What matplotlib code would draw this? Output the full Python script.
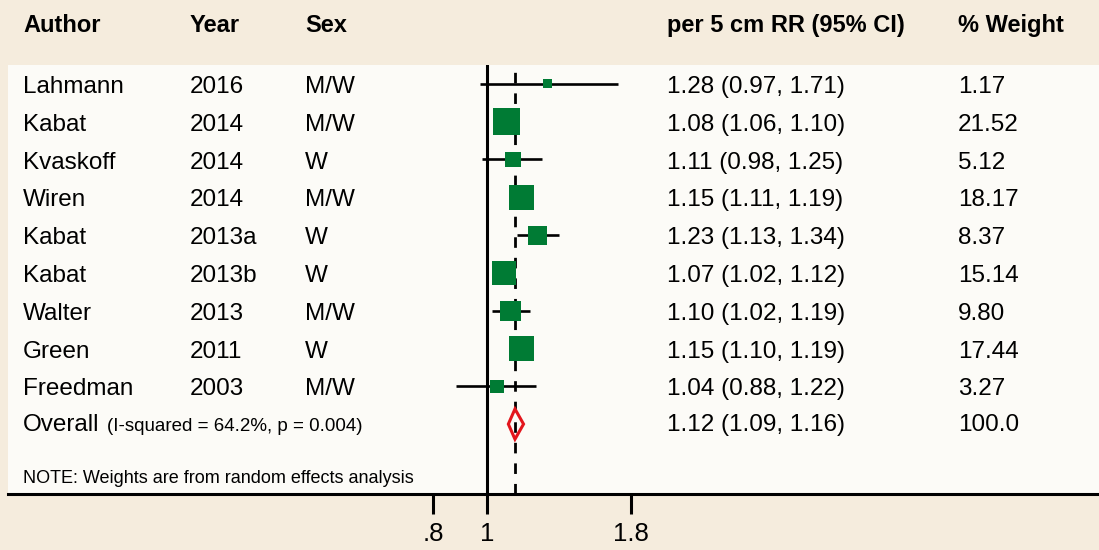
import matplotlib
matplotlib.use('Agg')
import matplotlib.pyplot as plt
import matplotlib.transforms as mtransforms

plt.rcParams['font.family'] = ['Liberation Sans', 'DejaVu Sans']

authors = ['Lahmann', 'Kabat', 'Kvaskoff', 'Wiren', 'Kabat', 'Kabat', 'Walter', 'Green', 'Freedman']
years = ['2016', '2014', '2014', '2014', '2013a', '2013b', '2013', '2011', '2003']
sexes = ['M/W', 'M/W', 'W', 'M/W', 'W', 'W', 'M/W', 'W', 'M/W']
rr = [1.28, 1.08, 1.11, 1.15, 1.23, 1.07, 1.10, 1.15, 1.04]
lo = [0.97, 1.06, 0.98, 1.11, 1.13, 1.02, 1.02, 1.10, 0.88]
hi = [1.71, 1.10, 1.25, 1.19, 1.34, 1.12, 1.19, 1.19, 1.22]
weights = [1.17, 21.52, 5.12, 18.17, 8.37, 15.14, 9.80, 17.44, 3.27]

overall_rr = 1.12
overall_lo = 1.09
overall_hi = 1.16
overall_weight = '100.0'
overall_note = '(I-squared = 64.2%, p = 0.004)'
note = 'NOTE: Weights are from random effects analysis'

headers = ['Author', 'Year', 'Sex', 'per 5 cm RR (95% CI)', '% Weight']
xticks = [0.8, 1, 1.8]
xticklabels = ['.8', '1', '1.8']

beige = '#f5ecdd'
panel = '#fcfbf7'
green = '#007b34'
red = '#e3161d'

W, H = 1099, 550
fig = plt.figure(figsize=(W / 100, H / 100), dpi=100, facecolor=beige)
# panel from x=8px to right edge, y=65px to 494px
ax = fig.add_axes([8 / W, (H - 494) / H, (W - 8) / W, (494 - 65) / H])
ax.set_facecolor(panel)
ax.set_xscale('log')
ax.set_xlim(0.1402, 12.27)
ax.set_ylim(10.85, -0.5)

n = len(authors)
rows = list(range(n))

# reference lines
ax.axvline(1, color='black', lw=2.2, zorder=2)
ax.axvline(overall_rr, color='black', lw=2.0, linestyle=(0, (3.8, 3.6)), zorder=1)

# confidence intervals and weighted boxes
ax.hlines(rows, lo, hi, color='black', lw=1.9, zorder=3)
sides = [27 * (w / max(weights)) ** 0.37 * 0.72 for w in weights]
ax.scatter(rr, rows, marker='s', s=[s ** 2 for s in sides], color=green,
           linewidths=0, zorder=4)

# overall diamond
yo = n
h = 0.4
ax.fill([overall_lo, overall_rr, overall_hi, overall_rr], [yo, yo - h, yo, yo + h],
        facecolor='none', edgecolor=red, lw=2.2, joinstyle='miter', zorder=5)

# axis
for side in ['top', 'left', 'right']:
    ax.spines[side].set_visible(False)
ax.spines['bottom'].set_linewidth(2.2)
ax.set_yticks([])
ax.set_xticks(xticks)
ax.set_xticklabels(xticklabels)
ax.minorticks_off()
ax.tick_params(axis='x', length=14.4, width=2.2, pad=6, labelsize=18.5)

# text columns, x in figure pixels, y in row units
tr = mtransforms.blended_transform_factory(fig.transFigure, ax.transData)
col_x = [23, 190, 305, 667, 958]
for x, txt in zip(col_x, headers):
    ax.text(x / W, -1.376, txt, transform=tr, fontsize=17, fontweight='bold',
            va='baseline', ha='left', clip_on=False)

for i in rows:
    cells = [authors[i], years[i], sexes[i],
             '%.2f (%.2f, %.2f)' % (rr[i], lo[i], hi[i]), '%.2f' % weights[i]]
    for x, txt in zip(col_x, cells):
        ax.text(x / W, i + 0.24, txt, transform=tr, fontsize=17.5,
                va='baseline', ha='left')

ax.text(23 / W, yo + 0.19, 'Overall', transform=tr, fontsize=17.5, va='baseline')
ax.text(107 / W, yo + 0.19, overall_note, transform=tr, fontsize=13.5, va='baseline')
ax.text(col_x[3] / W, yo + 0.19, '%.2f (%.2f, %.2f)' % (overall_rr, overall_lo, overall_hi),
        transform=tr, fontsize=17.5, va='baseline')
ax.text(col_x[4] / W, yo + 0.19, overall_weight, transform=tr, fontsize=17.5, va='baseline')

ax.text(23 / W, 10.56, note, transform=tr, fontsize=13, va='baseline')

fig.savefig('out.png', dpi=100, facecolor=beige)
